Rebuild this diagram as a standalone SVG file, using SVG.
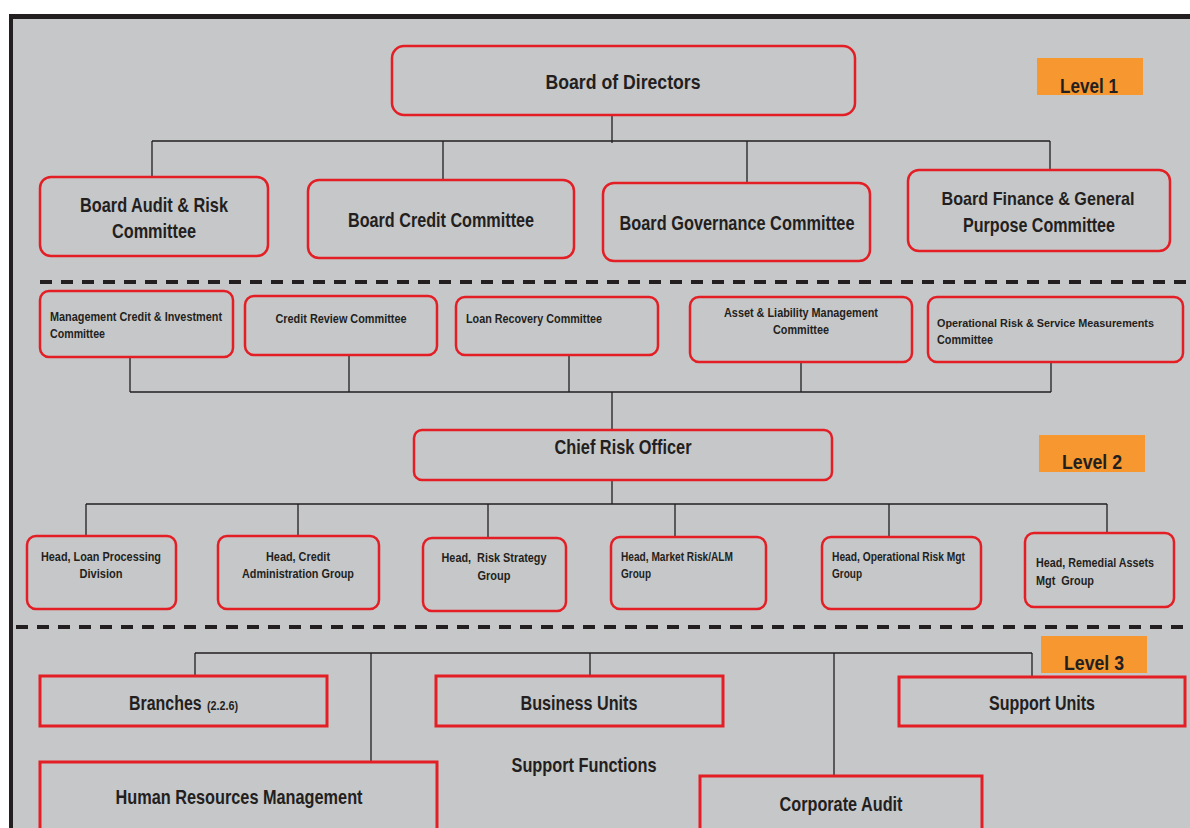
<svg xmlns="http://www.w3.org/2000/svg" width="1190" height="828" viewBox="0 0 1190 828">
<style>
.bg{fill:#c6c7c9}
.box{fill:none;stroke:#e31e24;stroke-width:2.5}
.sq{fill:none;stroke:#e31e24;stroke-width:3}
.lvl{fill:#f7972f}
.ln{fill:none;stroke:#231f20;stroke-width:1.3}
.dash{stroke:#231f20;stroke-width:4;stroke-dasharray:12 9}
text{font-family:"Liberation Sans",Arial,sans-serif;font-weight:bold;fill:#231f20}
.b{font-size:21px}
.s{font-size:13px}
.m{text-anchor:middle}
</style>
<rect x="0" y="0" width="1190" height="828" fill="#ffffff"/>
<rect class="bg" x="13" y="19" width="1177" height="809"/>
<rect x="9" y="14" width="1181" height="5" fill="#231f20"/>
<rect x="9" y="14" width="4" height="814" fill="#231f20"/>
<line class="dash" x1="40" y1="282" x2="1190" y2="282"/>
<line class="dash" x1="16" y1="627" x2="1190" y2="627"/>

<g id="connectors">
<path class="ln" d="M612 115V143M152 141H1050M152 141V177M443 141V180M747 141V183M1050 141V170"/>
<path class="ln" d="M130 357V392M349 355V392M569 355V392M801 362V392M1051 362V392M130 392H1051M612 392V430"/>
<path class="ln" d="M612 480V504M86 504H1107M86 504V536M298 504V536M488 504V538M675 504V537M889 504V537M1107 504V533"/>
<path class="ln" d="M195 653H1032M195 653V676M371 653V762M590 653V676M834 653V776M1032 653V677"/>
</g>

<g id="level1"><rect class="lvl" x="1037" y="58" width="106" height="37"/><text class="b m" x="1089" y="93" textLength="58" lengthAdjust="spacingAndGlyphs">Level 1</text></g>
<g id="level2"><rect class="lvl" x="1039" y="435" width="106" height="37"/><text class="b m" x="1092" y="469" textLength="60" lengthAdjust="spacingAndGlyphs">Level 2</text></g>
<g id="level3"><rect class="lvl" x="1041" y="636" width="106" height="37"/><text class="b m" x="1094" y="670" textLength="60" lengthAdjust="spacingAndGlyphs">Level 3</text></g>

<g id="board"><rect class="box" x="392" y="46" width="463" height="69" rx="12"/><text class="b m" x="623" y="89" textLength="155" lengthAdjust="spacingAndGlyphs">Board of Directors</text></g>

<g id="audit"><rect class="box" x="40" y="177" width="228" height="79" rx="11"/>
<text class="b m" x="154" y="212" textLength="148" lengthAdjust="spacingAndGlyphs">Board Audit &amp; Risk</text>
<text class="b m" x="154" y="238" textLength="84" lengthAdjust="spacingAndGlyphs">Committee</text></g>
<g id="credit"><rect class="box" x="308" y="180" width="266" height="78" rx="11"/><text class="b m" x="441" y="227" textLength="186" lengthAdjust="spacingAndGlyphs">Board Credit Committee</text></g>
<g id="governance"><rect class="box" x="603" y="183" width="267" height="78" rx="11"/><text class="b m" x="737" y="230" textLength="235" lengthAdjust="spacingAndGlyphs">Board Governance Committee</text></g>
<g id="finance"><rect class="box" x="908" y="170" width="262" height="81" rx="11"/>
<text class="m" font-size="19px" x="1038" y="205" textLength="193" lengthAdjust="spacingAndGlyphs">Board Finance &amp; General</text>
<text class="b m" x="1039" y="232" textLength="152" lengthAdjust="spacingAndGlyphs">Purpose Committee</text></g>

<g id="mcic"><rect class="box" x="40" y="291" width="193" height="66" rx="9"/>
<text class="s" x="50" y="321" textLength="172" lengthAdjust="spacingAndGlyphs">Management Credit &amp; Investment</text>
<text class="s" x="50" y="338" textLength="55" lengthAdjust="spacingAndGlyphs">Committee</text></g>
<g id="crc"><rect class="box" x="245" y="296" width="192" height="59" rx="9"/><text class="s m" x="341" y="323" textLength="131" lengthAdjust="spacingAndGlyphs">Credit Review Committee</text></g>
<g id="lrc"><rect class="box" x="456" y="297" width="202" height="58" rx="9"/><text class="s" x="466" y="323" textLength="136" lengthAdjust="spacingAndGlyphs">Loan Recovery Committee</text></g>
<g id="alm"><rect class="box" x="690" y="297" width="222" height="65" rx="9"/>
<text class="s m" x="801" y="317" textLength="154" lengthAdjust="spacingAndGlyphs">Asset &amp; Liability Management</text>
<text class="s m" x="801" y="334" textLength="56" lengthAdjust="spacingAndGlyphs">Committee</text></g>
<g id="orsm"><rect class="box" x="928" y="297" width="255" height="65" rx="9"/>
<text font-size="11.5px" x="937" y="327" textLength="217" lengthAdjust="spacingAndGlyphs">Operational Risk &amp; Service Measurements</text>
<text class="s" x="937" y="344" textLength="56" lengthAdjust="spacingAndGlyphs">Committee</text></g>

<g id="cro"><rect class="box" x="414" y="430" width="418" height="50" rx="8"/><text class="b m" x="623" y="454" textLength="137" lengthAdjust="spacingAndGlyphs">Chief Risk Officer</text></g>

<g id="h1"><rect class="box" x="27" y="536" width="149" height="73" rx="9"/>
<text class="s m" x="101" y="561" textLength="120" lengthAdjust="spacingAndGlyphs">Head, Loan Processing</text>
<text class="s m" x="101" y="578" textLength="43" lengthAdjust="spacingAndGlyphs">Division</text></g>
<g id="h2"><rect class="box" x="218" y="536" width="161" height="73" rx="9"/>
<text class="s m" x="298" y="561" textLength="64" lengthAdjust="spacingAndGlyphs">Head, Credit</text>
<text class="s m" x="298" y="578" textLength="112" lengthAdjust="spacingAndGlyphs">Administration Group</text></g>
<g id="h3"><rect class="box" x="423" y="538" width="143" height="73" rx="9"/>
<text class="s m" x="494" y="562" textLength="105" lengthAdjust="spacingAndGlyphs" xml:space="preserve">Head,  Risk Strategy</text>
<text class="s m" x="494" y="580" textLength="33" lengthAdjust="spacingAndGlyphs">Group</text></g>
<g id="h4"><rect class="box" x="611" y="537" width="155" height="72" rx="9"/>
<text class="s" x="621" y="561" textLength="112" lengthAdjust="spacingAndGlyphs">Head, Market Risk/ALM</text>
<text class="s" x="621" y="578" textLength="30" lengthAdjust="spacingAndGlyphs">Group</text></g>
<g id="h5"><rect class="box" x="822" y="537" width="159" height="72" rx="9"/>
<text class="s" x="832" y="561" textLength="133" lengthAdjust="spacingAndGlyphs">Head, Operational Risk Mgt</text>
<text class="s" x="832" y="578" textLength="30" lengthAdjust="spacingAndGlyphs">Group</text></g>
<g id="h6"><rect class="box" x="1025" y="533" width="149" height="74" rx="9"/>
<text class="s" x="1036" y="567" textLength="118" lengthAdjust="spacingAndGlyphs">Head, Remedial Assets</text>
<text class="s" x="1036" y="585" textLength="58" lengthAdjust="spacingAndGlyphs" xml:space="preserve">Mgt  Group</text></g>

<g id="branches"><rect class="sq" x="40" y="676" width="287" height="50"/>
<text class="b" transform="translate(129 710) scale(0.76 1)" x="0" y="0">Branches</text>
<text font-size="12px" transform="translate(207 710) scale(0.9 1)" x="0" y="0">(2.2.6)</text></g>
<g id="business"><rect class="sq" x="436" y="676" width="287" height="50"/><text class="b m" x="579" y="710" textLength="117" lengthAdjust="spacingAndGlyphs">Business Units</text></g>
<g id="support"><rect class="sq" x="899" y="677" width="286" height="49"/><text class="b m" x="1042" y="710" textLength="106" lengthAdjust="spacingAndGlyphs">Support Units</text></g>
<g id="functions"><text class="b m" x="584" y="772" textLength="145" lengthAdjust="spacingAndGlyphs">Support Functions</text></g>
<g id="hr"><rect class="sq" x="40" y="762" width="397" height="80"/><text class="b m" x="239" y="804" textLength="247" lengthAdjust="spacingAndGlyphs">Human Resources Management</text></g>
<g id="audit2"><rect class="sq" x="700" y="776" width="282" height="70"/><text class="b m" x="841" y="811" textLength="123" lengthAdjust="spacingAndGlyphs">Corporate Audit</text></g>
</svg>
